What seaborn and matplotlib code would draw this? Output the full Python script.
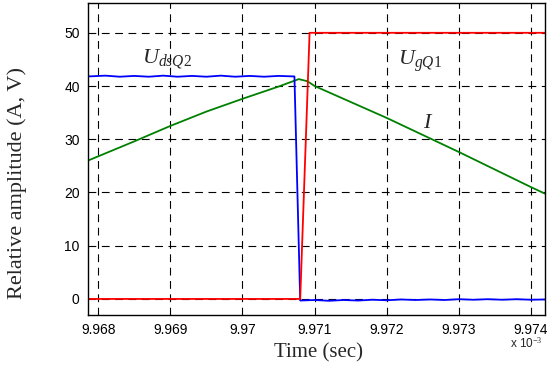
import matplotlib
matplotlib.use("Agg")
import matplotlib.pyplot as plt
import seaborn as sns
import pandas as pd

# ---- data (time in units of 1e-3 s) ----
blue_t = [9.96786, 9.9681, 9.9683, 9.9685, 9.9687, 9.9689, 9.9691, 9.9693, 9.9695,
          9.9697, 9.9699, 9.9701, 9.9703, 9.9705, 9.97072, 9.97080, 9.9710, 9.9712,
          9.9714, 9.9716, 9.9718, 9.9720, 9.9722, 9.9724, 9.9726, 9.9728, 9.9730,
          9.9732, 9.9734, 9.9736, 9.9738, 9.9740, 9.97419]
blue_v = [41.8, 41.95, 41.75, 41.9, 41.75, 41.95, 41.75, 41.9, 41.75,
          41.95, 41.75, 41.9, 41.75, 41.9, 41.8, -0.3, -0.2, -0.35,
          -0.2, -0.3, -0.15, -0.25, -0.1, -0.2, -0.1, -0.2, -0.05,
          -0.15, -0.05, -0.15, -0.05, -0.15, -0.1]

red_t = [9.96786, 9.97080, 9.97093, 9.97419]
red_v = [0.0, 0.0, 50.0, 50.0]

green_t = [9.96786, 9.9685, 9.9690, 9.9695, 9.9700, 9.9705, 9.97078, 9.9709, 9.9710,
           9.9715, 9.9720, 9.9725, 9.9730, 9.9735, 9.9740, 9.97419]
green_v = [26.0, 29.6, 32.5, 35.2, 37.6, 39.9, 41.3, 40.9, 40.0,
           37.0, 34.0, 30.8, 27.6, 24.3, 21.0, 19.8]

x_ticks = [9.968, 9.969, 9.970, 9.971, 9.972, 9.973, 9.974]
x_ticklabels = ["9.968", "9.969", "9.97", "9.971", "9.972", "9.973", "9.974"]
y_ticks = [0, 10, 20, 30, 40, 50]

df = pd.concat([
    pd.DataFrame({"t": green_t, "v": green_v, "s": "I"}),
    pd.DataFrame({"t": blue_t, "v": blue_v, "s": "UdsQ2"}),
    pd.DataFrame({"t": red_t, "v": red_v, "s": "UgQ1"}),
], ignore_index=True)

sns.set_style("white")
plt.rcParams["mathtext.fontset"] = "custom"
plt.rcParams["mathtext.rm"] = "Liberation Serif"
plt.rcParams["mathtext.it"] = "Liberation Serif:italic"

fig = plt.figure(figsize=(5.47, 3.74), dpi=100)
ax = fig.add_axes([0.161, 0.158, 0.835, 0.834])

sns.lineplot(data=df, x="t", y="v", hue="s", sort=False, estimator=None,
             palette={"I": "#008000", "UdsQ2": "#0000ff", "UgQ1": "#ff0000"},
             linewidth=1.3, legend=False, ax=ax)

ax.set_xlim(9.96786, 9.97419)
ax.set_ylim(-3, 55.6)
ax.set_xticks(x_ticks)
ax.set_xticklabels(x_ticklabels)
ax.set_yticks(y_ticks)
ax.tick_params(direction="out", length=3, width=0.8, labelsize=10, color="black",
               labelcolor="black", pad=3)
for lbl in ax.get_xticklabels() + ax.get_yticklabels():
    lbl.set_family("Liberation Sans")

ax.grid(True, color="black", linestyle=(0, (7, 5)), linewidth=0.8)
for sp in ax.spines.values():
    sp.set_color("black")
    sp.set_linewidth(1.0)

ax.set_xlabel("")
ax.set_ylabel("")
fig.text(319 / 547, 1 - 353 / 374, "Time (sec)", family="Liberation Serif",
         fontsize=15, ha="center", va="center")
fig.text(17 / 547, 1 - 183 / 374, "Relative amplitude (A, V)", family="Liberation Serif",
         fontsize=16, rotation=90, ha="center", va="center")

fig.text(510 / 547, 1 - 348 / 374, r"x 10$^{-3}$", family="Liberation Sans", fontsize=8.5)

ax.text(9.96861, 44.3, r"$U_{dsQ2}$", fontsize=16)
ax.text(9.97215, 43.9, r"$U_{gQ1}$", fontsize=16)
ax.text(9.9725, 32.1, r"$I$", fontsize=16)

fig.savefig("out.png", dpi=100)
